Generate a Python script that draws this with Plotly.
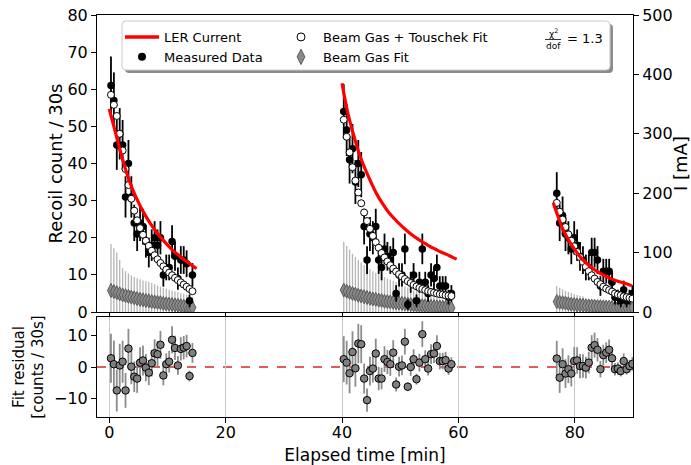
import numpy as np
import plotly.graph_objects as go

# ---------------- data ----------------
# 30 s bins (minutes) for the three fills
t1 = np.round(0.3 + 0.5 * np.arange(29), 2)
t2 = np.round(40.3 + 0.5 * np.arange(38), 2)
t3 = np.round(76.9 + 0.5 * np.arange(27), 2)

meas1 = [61, 57, 45, 48, 45, 31, 40, 31, 24, 21, 24, 23, 19, 16, 18, 20, 18, 20, 10, 12, 12, 19, 15, 9, 14, 14, 13, 3, 10]
meas2 = [54, 49, 41, 44, 35, 40, 37, 23, 14, 21, 20, 23, 14, 12, 17, 15, 14, 16, 5, 10, 10, 17, 2, 8, 10, 3, 8, 17, 8, 5, 10, 9, 12, 7, 7, 7, 4, 5]
meas3 = [32, 24, 26, 21, 20, 17, 20, 18, 15, 14, 12, 12, 16, 16, 14, 7, 11, 11, 11, 8, 4, 4, 3, 6, 3, 4, 5]

fit1 = [58.5, 55.8, 52.8, 48.0, 43.5, 38.5, 34.2, 30.5, 27.3, 24.7, 22.6, 20.8, 19.2, 17.8, 16.5, 15.3, 14.2, 13.2, 12.3, 11.4, 10.6, 9.9, 9.2, 8.6, 8.0, 7.4, 6.8, 6.2, 5.6]
fit2 = [51.8, 47.2, 43.0, 39.0, 35.4, 32.2, 29.3, 26.8, 24.5, 22.4, 20.5, 18.8, 17.3, 15.9, 14.7, 13.6, 12.6, 11.7, 10.9, 10.2, 9.5, 8.9, 8.3, 7.8, 7.3, 6.9, 6.5, 6.2, 5.9, 5.6, 5.4, 5.2, 5.0, 4.8, 4.7, 4.5, 4.4, 4.3]
fit3 = [29.4, 27.0, 24.9, 22.9, 20.9, 19.2, 17.7, 16.2, 14.8, 13.5, 12.2, 11.0, 9.9, 9.0, 8.1, 7.5, 6.8, 6.3, 5.9, 5.5, 5.0, 4.7, 4.5, 4.2, 4.0, 3.8, 3.6]

bg1 = [5.8, 5.5, 5.2, 4.9, 4.6, 4.4, 4.2, 4.0, 3.8, 3.6, 3.4, 3.3, 3.1, 3.0, 2.8, 2.7, 2.6, 2.5, 2.3, 2.2, 2.1, 2.0, 1.9, 1.8, 1.7, 1.6, 1.5, 1.3, 1.2]
bg2 = [5.9, 5.6, 5.3, 5.0, 4.8, 4.5, 4.3, 4.1, 3.9, 3.7, 3.5, 3.4, 3.2, 3.1, 2.9, 2.8, 2.7, 2.6, 2.5, 2.4, 2.3, 2.2, 2.1, 2.0, 1.9, 1.85, 1.8, 1.7, 1.65, 1.6, 1.5, 1.45, 1.4, 1.35, 1.3, 1.25, 1.2, 1.1]
bg3 = [2.8, 2.6, 2.5, 2.4, 2.2, 2.1, 2.0, 1.9, 1.85, 1.8, 1.7, 1.65, 1.6, 1.55, 1.5, 1.45, 1.4, 1.35, 1.3, 1.25, 1.2, 1.2, 1.15, 1.1, 1.1, 1.05, 1.0]

bgerr1 = [12.5, 11.7, 10.8, 9.1, 7.2, 6.6, 6.2, 5.8, 5.6, 5.5, 5.4, 5.2, 5.2, 5.1, 5.0, 4.8, 4.5, 4.3, 4.2, 4.1, 3.9, 3.7, 3.6, 3.5, 3.4, 3.3, 3.1, 3.0, 2.9]
bgerr2 = [13.0, 12.2, 11.5, 10.7, 10.0, 9.5, 9.0, 8.5, 8.1, 7.8, 7.5, 7.2, 7.0, 6.7, 6.5, 6.2, 6.0, 5.8, 5.6, 5.3, 5.0, 4.7, 4.4, 4.1, 3.9, 3.75, 3.6, 3.4, 3.25, 3.1, 2.9, 2.65, 2.5, 2.25, 2.1, 1.95, 1.8, 1.7]
bgerr3 = [4.2, 3.9, 3.6, 3.3, 3.2, 3.0, 2.8, 2.7, 2.55, 2.4, 1.7, 1.65, 1.6, 1.55, 1.5, 1.5, 1.5, 1.45, 1.45, 1.45, 1.4, 1.35, 1.35, 1.35, 1.3, 1.3, 1.3]

res1 = [2.8, 0.9, -7.5, 0.5, 1.7, -7.5, 5.9, 0.1, -3.1, -3.7, 1.4, 2.1, -0.2, -1.8, 1.2, 4.4, 4.1, 7.1, -2.7, 0.9, 1.7, 8.7, 6.1, 0.5, 5.8, 6.2, 6.7, -2.9, 4.5]
res2 = [2.5, 1.4, -2.0, 4.8, -0.4, 7.5, 7.3, -3.7, -10.6, -1.3, -0.5, 4.3, -3.7, -3.7, 2.5, 1.6, 0.9, 4.6, -5.6, 0.1, 0.5, 8.1, -6.3, 0.0, 2.5, -3.9, 1.4, 10.5, 2.5, -0.5, 4.1, 4.3, 6.7, 1.9, 1.9, 2.2, -0.5, 0.9]
res3 = [2.7, -3.4, 0.9, -2.1, -0.7, -2.1, 1.9, 2.1, 0.3, 0.3, -0.2, 1.4, 6.2, 7.0, 5.5, -0.7, 3.8, 4.6, 5.5, 2.8, -0.7, -0.5, -1.3, 1.9, -0.7, 0.3, 1.0]

# LER current [mA]
cur_t1 = [0, 1, 2, 3, 4, 5, 6, 7, 8, 9, 10, 11, 12, 13, 14, 15]
cur_i1 = [342, 305, 268, 234, 207, 185, 166, 150, 136, 124, 113, 103, 95, 87, 80, 73]
cur_t2 = [40, 41, 42, 43, 44, 45, 46, 47, 48, 49, 50, 51, 52, 53, 54, 55, 56, 57, 58, 59, 59.7]
cur_i2 = [385, 335, 298, 265, 240, 218, 198, 182, 168, 157, 147, 138, 130, 123, 117, 111, 106, 101, 97, 92, 89]
cur_t3 = [76.3, 77, 78, 79, 80, 81, 82, 83, 84, 85, 86, 87, 88, 89, 89.8]
cur_i3 = [184, 164, 138, 120, 105, 92, 82, 74, 67, 62, 57, 53, 50, 47, 44]

chi2_text = "= 1.3"

# ---------------- geometry helpers (pixel -> paper) ----------------
W, H = 691, 465
ML, MR, MT, MB = 97, 58, 15, 48
PW, PH = W - ML - MR, H - MT - MB
def fx(px):
    return (px - ML) / PW
def fy(py):
    return (H - MB - py) / PH

FONT = "DejaVu Sans"
fig = go.Figure()

segs = [(t1, meas1, fit1, bg1, bgerr1, res1), (t2, meas2, fit2, bg2, bgerr2, res2), (t3, meas3, fit3, bg3, bgerr3, res3)]

for t, m, f, bg, be, r in segs:
    fig.add_trace(go.Scatter(x=t, y=bg, mode="markers", showlegend=False, xaxis="x", yaxis="y",
                             marker=dict(symbol="diamond-tall", size=10, color="#8a8a8a", line=dict(color="#5a5a5a", width=1)),
                             error_y=dict(type="data", array=be, color="#b5b5b5", thickness=1.3, width=0)))
for t, m, f, bg, be, r in segs:
    fig.add_trace(go.Scatter(x=t, y=m, mode="markers", showlegend=False, xaxis="x", yaxis="y",
                             marker=dict(symbol="circle", size=7.5, color="black"),
                             error_y=dict(type="data", array=np.sqrt(m), color="black", thickness=1.8, width=0)))
for t, m, f, bg, be, r in segs:
    fig.add_trace(go.Scatter(x=t, y=f, mode="markers", showlegend=False, xaxis="x", yaxis="y",
                             marker=dict(symbol="circle", size=7, color="white", line=dict(color="black", width=1))))
for ct, ci in [(cur_t1, cur_i1), (cur_t2, cur_i2), (cur_t3, cur_i3)]:
    fig.add_trace(go.Scatter(x=ct, y=ci, mode="lines", showlegend=False, xaxis="x", yaxis="y2",
                             line=dict(color="red", width=3.2, shape="spline")))
for t, m, f, bg, be, r in segs:
    fig.add_trace(go.Scatter(x=t, y=r, mode="markers", showlegend=False, xaxis="x2", yaxis="y3",
                             marker=dict(symbol="circle", size=7.5, color="#7f7f7f", line=dict(color="black", width=1)),
                             error_y=dict(type="data", array=np.sqrt(m), color="#8c8c8c", thickness=1.8, width=0)))

# legend-only entries
fig.add_trace(go.Scatter(x=[None], y=[None], mode="lines", name="LER Current", legend="legend",
                         line=dict(color="red", width=3.5)))
fig.add_trace(go.Scatter(x=[None], y=[None], mode="markers", name="Measured Data", legend="legend",
                         marker=dict(symbol="circle", size=8, color="black")))
fig.add_trace(go.Scatter(x=[None], y=[None], mode="markers", name="Beam Gas + Touschek Fit", legend="legend2",
                         marker=dict(symbol="circle", size=8, color="white", line=dict(color="black", width=1))))
fig.add_trace(go.Scatter(x=[None], y=[None], mode="markers", name="Beam Gas Fit", legend="legend2",
                         marker=dict(symbol="diamond-tall", size=11, color="#8a8a8a", line=dict(color="#5a5a5a", width=1))))

# legend frame (shadow + rounded white box)
def rounded_rect(x0, y0, x1, y1, r):
    X = lambda p: fx(p)
    Y = lambda p: fy(p)
    return (f"M {X(x0+r)},{Y(y0)} L {X(x1-r)},{Y(y0)} Q {X(x1)},{Y(y0)} {X(x1)},{Y(y0+r)} "
            f"L {X(x1)},{Y(y1-r)} Q {X(x1)},{Y(y1)} {X(x1-r)},{Y(y1)} L {X(x0+r)},{Y(y1)} "
            f"Q {X(x0)},{Y(y1)} {X(x0)},{Y(y1-r)} L {X(x0)},{Y(y0+r)} Q {X(x0)},{Y(y0)} {X(x0+r)},{Y(y0)} Z")

shapes = [
    dict(type="line", xref="x2 domain", x0=0, x1=1, yref="y3", y0=0, y1=0,
         line=dict(color="#d62728", width=1.5, dash="dash"), layer="below"),
    dict(type="path", xref="paper", yref="paper", path=rounded_rect(125, 24, 613, 73, 4),
         fillcolor="rgba(0,0,0,0.45)", line=dict(width=0), layer="above"),
    dict(type="path", xref="paper", yref="paper", path=rounded_rect(122, 21, 610, 70, 4),
         fillcolor="white", line=dict(color="#cccccc", width=1), layer="above"),
    dict(type="line", xref="paper", yref="paper", x0=fx(545), x1=fx(561), y0=fy(39.5), y1=fy(39.5),
         line=dict(color="black", width=0.8), layer="above"),
]

annotations = [
    dict(text="χ<sup>2</sup>", xref="paper", yref="paper", x=fx(553), y=fy(33), showarrow=False,
         font=dict(family=FONT, size=9, color="black"), xanchor="center", yanchor="middle"),
    dict(text="dof", xref="paper", yref="paper", x=fx(553), y=fy(46), showarrow=False,
         font=dict(family=FONT, size=9, color="black"), xanchor="center", yanchor="middle"),
    dict(text=chi2_text, xref="paper", yref="paper", x=fx(565), y=fy(38.5), showarrow=False,
         font=dict(family=FONT, size=13, color="black"), xanchor="left", yanchor="middle"),
]

axis_common = dict(showline=True, linecolor="black", linewidth=1, ticks="outside", ticklen=5,
                   tickcolor="black", tickwidth=1, zeroline=False,
                   tickfont=dict(family=FONT, size=16, color="black"))

fig.update_layout(
    width=W, height=H, margin=dict(l=ML, r=MR, t=MT, b=MB, autoexpand=False),
    plot_bgcolor="white", paper_bgcolor="white",
    font=dict(family=FONT, size=16, color="black"),
    xaxis=dict(domain=[0, 1], anchor="y", range=[-2.1, 90], tickvals=[0, 20, 40, 60, 80],
               showticklabels=False, showgrid=False, mirror=True, **axis_common),
    yaxis=dict(domain=[fy(312), 1], anchor="x", range=[0, 80], dtick=10, showgrid=False,
               title=dict(text="Recoil count / 30s", font=dict(family=FONT, size=18), standoff=0),
               **axis_common),
    yaxis2=dict(overlaying="y", side="right", anchor="x", range=[0, 500], dtick=100, showgrid=False,
                title=dict(text="I [mA]", font=dict(family=FONT, size=18), standoff=8), **axis_common),
    xaxis2=dict(domain=[0, 1], anchor="y3", matches="x", range=[-2.1, 90], tickvals=[0, 20, 40, 60, 80],
                showgrid=True, gridcolor="#c8c8c8", gridwidth=1, mirror=True, ticklabelstandoff=-4,
                title=dict(text="Elapsed time [min]", font=dict(family=FONT, size=17), standoff=8),
                **axis_common),
    yaxis3=dict(domain=[0, fy(317)], anchor="x2", range=[-16, 16], tickvals=[-10, 0, 10], showgrid=False,
                mirror=True,
                title=dict(text="Fit residual<br>[counts / 30s]", font=dict(family=FONT, size=15), standoff=6),
                **axis_common),
    legend=dict(x=fx(120), y=fy(22), xanchor="left", yanchor="top", bgcolor="rgba(0,0,0,0)", borderwidth=0,
                font=dict(family=FONT, size=13, color="black"), itemwidth=34, tracegroupgap=0),
    legend2=dict(x=fx(279), y=fy(22), xanchor="left", yanchor="top", bgcolor="rgba(0,0,0,0)", borderwidth=0,
                 font=dict(family=FONT, size=13, color="black"), itemwidth=34, tracegroupgap=0),
    shapes=shapes, annotations=annotations,
)

fig.write_html("out.html")
